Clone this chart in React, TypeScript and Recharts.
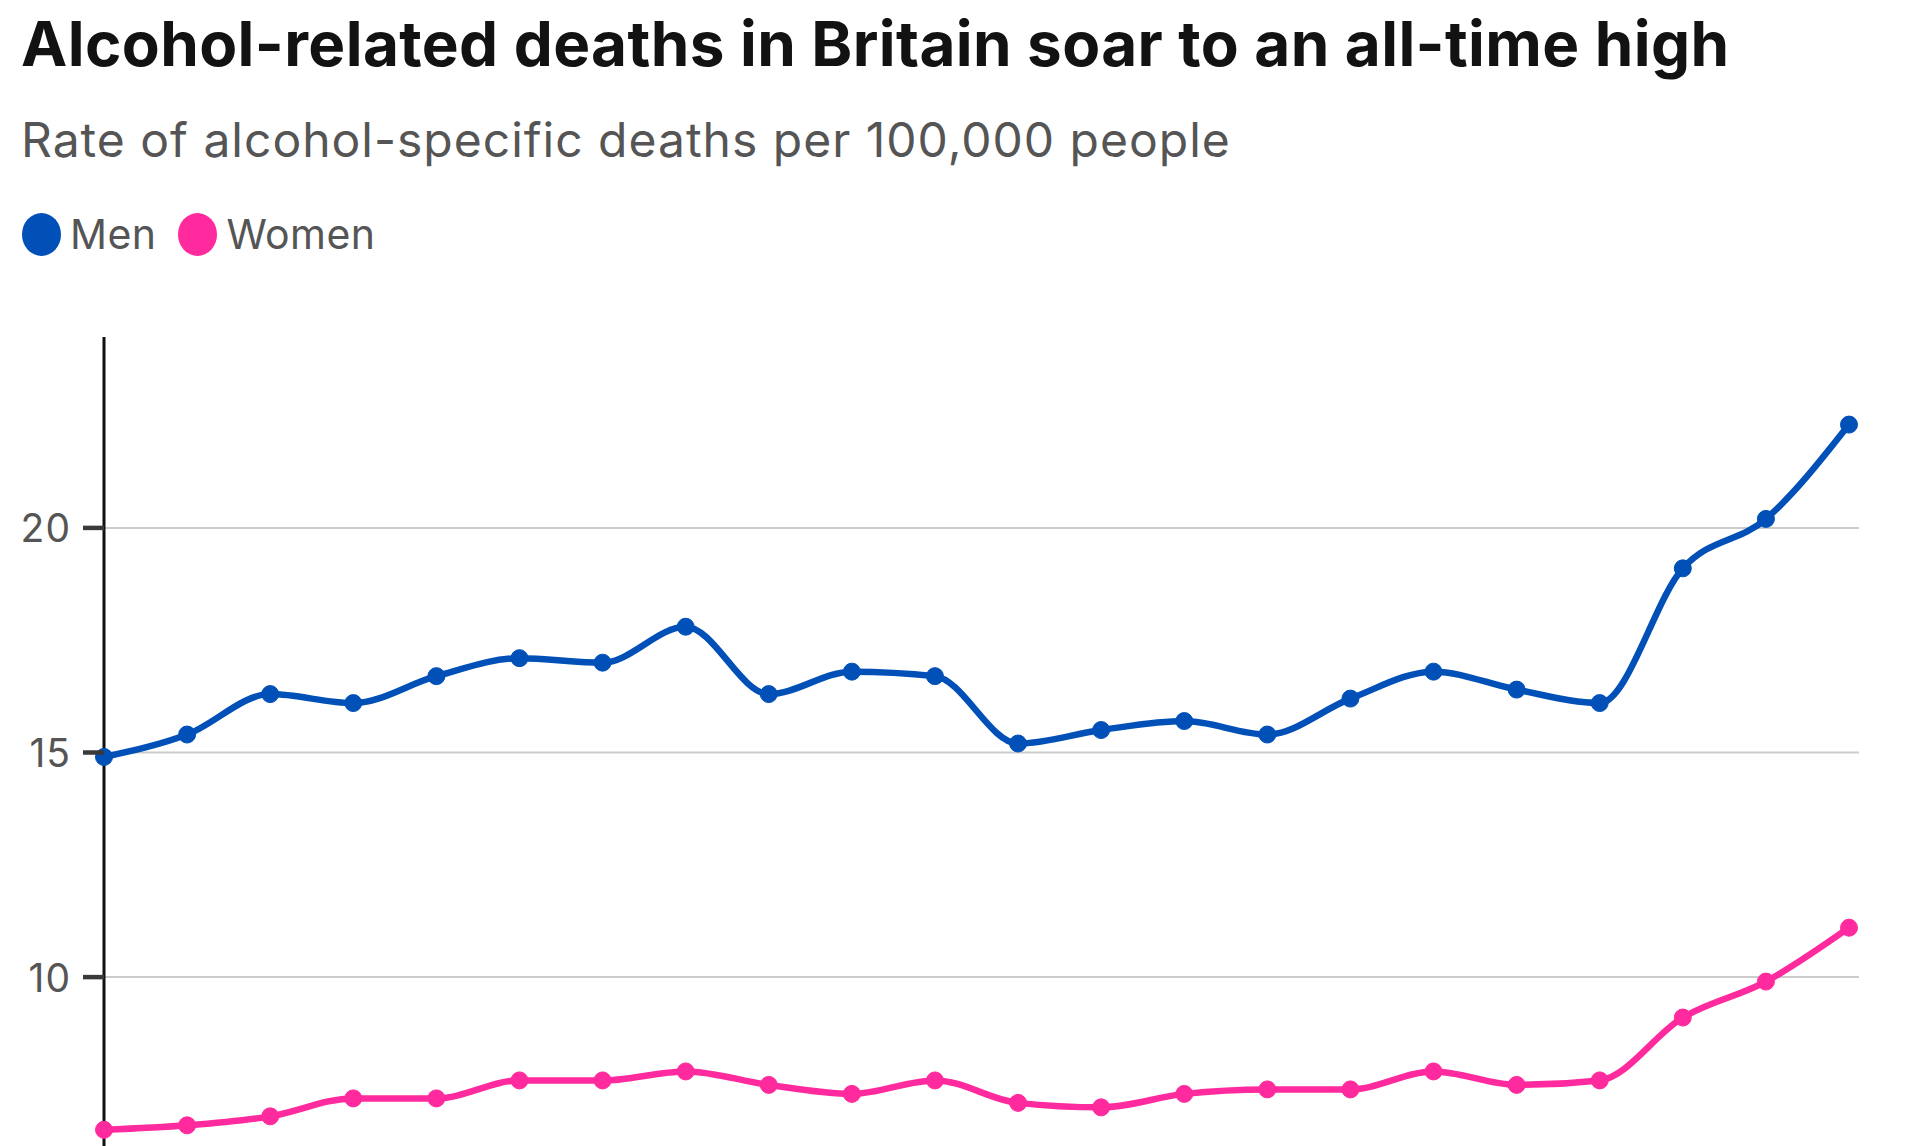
import React from 'react';
import { LineChart, Line, XAxis, YAxis, CartesianGrid } from 'recharts';

const years = [
  '2001', '2002', '2003', '2004', '2005', '2006', '2007', '2008', '2009', '2010', '2011',
  '2012', '2013', '2014', '2015', '2016', '2017', '2018', '2019', '2020', '2021', '2022',
];
const menRates = [
  14.9, 15.4, 16.3, 16.1, 16.7, 17.1, 17.0, 17.8, 16.3, 16.8, 16.7,
  15.2, 15.5, 15.7, 15.4, 16.2, 16.8, 16.4, 16.1, 19.1, 20.2, 22.3,
];
const womenRates = [
  6.6, 6.7, 6.9, 7.3, 7.3, 7.7, 7.7, 7.9, 7.6, 7.4, 7.7,
  7.2, 7.1, 7.4, 7.5, 7.5, 7.9, 7.6, 7.7, 9.1, 9.9, 11.1,
];
const yTicks = [10, 15, 20];
const yDomain: [number, number] = [6.24, 24.25];
const seriesNames = ['Men', 'Women'];
const seriesColors = ['#0050b8', '#ff2a9d'];

const data = years.map((year, i) => ({ year, men: menRates[i], women: womenRates[i] }));

const FONT = 'Inter, "Noto Sans", sans-serif';
const TICK_SIZE = 21;
const TICK_MARGIN = 12;

// grid only at the tick values, no line at the top edge of the plot
const gridLines = ({ offset }: any) =>
  yTicks.map((t) => offset.top + (offset.height * (yDomain[1] - t)) / (yDomain[1] - yDomain[0]));

// label + short dark dash next to the axis
const YTick = (props: any) => {
  const { x, y, payload } = props;
  return (
    <g>
      <rect x={x + TICK_MARGIN} y={y - 2.25} width={TICK_SIZE} height={4.5} fill="#3a3a3a" />
      <text
        x={x}
        y={y}
        textAnchor="end"
        dominantBaseline="central"
        fill="#555"
        fontSize={39}
        letterSpacing={1}
        fontFamily={FONT}
      >
        {payload.value}
      </text>
    </g>
  );
};

export default function App() {
  return (
    <div
      style={{
        position: 'absolute',
        left: 0,
        top: 0,
        width: 1908,
        height: 1146,
        overflow: 'hidden',
        background: '#fff',
        fontFamily: FONT,
      }}
    >
      <div
        style={{
          position: 'absolute',
          left: 21,
          top: 6,
          fontSize: 62,
          fontWeight: 700,
          letterSpacing: 0.4,
          color: '#121212',
          whiteSpace: 'nowrap',
        }}
      >
        Alcohol-related deaths in Britain soar to an all-time high
      </div>
      <div
        style={{
          position: 'absolute',
          left: 21,
          top: 110,
          fontSize: 48,
          letterSpacing: 1,
          color: '#555',
          whiteSpace: 'nowrap',
        }}
      >
        Rate of alcohol-specific deaths per 100,000 people
      </div>
      <div style={{ position: 'absolute', left: 22, top: 209, display: 'flex', alignItems: 'center' }}>
        {seriesNames.map((name, i) => (
          <div key={name} style={{ display: 'flex', alignItems: 'center', marginRight: 22 }}>
            <span
              style={{
                display: 'inline-block',
                width: 39,
                height: 43,
                borderRadius: '50%',
                background: seriesColors[i],
                marginRight: 9,
              }}
            />
            <span style={{ fontSize: 41, letterSpacing: 0.4, color: '#555' }}>{name}</span>
          </div>
        ))}
      </div>
      <LineChart width={1908} height={1146} data={data} margin={{ top: 337, right: 49, bottom: 0, left: 0 }}>
        <CartesianGrid
          horizontal
          vertical={false}
          stroke="#cccccc"
          strokeWidth={2}
          horizontalCoordinatesGenerator={gridLines}
        />
        <XAxis dataKey="year" hide padding={{ left: 0, right: 10 }} />
        <YAxis
          width={104}
          domain={yDomain}
          ticks={yTicks}
          allowDataOverflow
          tickSize={TICK_SIZE}
          tickMargin={TICK_MARGIN}
          axisLine={{ stroke: '#111', strokeWidth: 3 }}
          tickLine={false}
          tick={<YTick />}
        />
        <Line
          type="monotone"
          dataKey="men"
          name={seriesNames[0]}
          stroke={seriesColors[0]}
          strokeWidth={6.5}
          dot={{ r: 8.5, fill: seriesColors[0], stroke: seriesColors[0], strokeWidth: 1 }}
          isAnimationActive={false}
        />
        <Line
          type="monotone"
          dataKey="women"
          name={seriesNames[1]}
          stroke={seriesColors[1]}
          strokeWidth={6.5}
          dot={{ r: 8.5, fill: seriesColors[1], stroke: seriesColors[1], strokeWidth: 1 }}
          isAnimationActive={false}
        />
      </LineChart>
    </div>
  );
}
